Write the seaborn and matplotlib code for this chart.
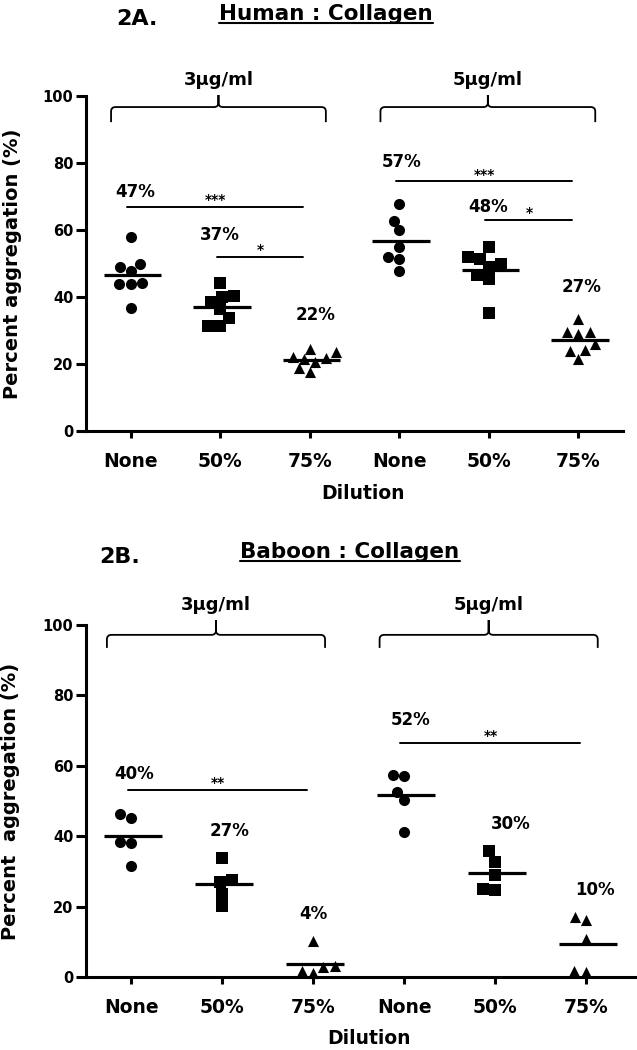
import numpy as np
import pandas as pd
import matplotlib
matplotlib.use('Agg')
import matplotlib.pyplot as plt
from matplotlib.path import Path
from matplotlib.patches import PathPatch
from matplotlib.lines import Line2D
import seaborn as sns

# DATA
GROUPS      = ['3-None', '3-50', '3-75', '5-None', '5-50', '5-75']
DILUTIONS   = ['None', '50%', '75%', 'None', '50%', '75%']
TICK_LABELS = ['None', '50%', '75%', 'None', '50%', '75%']
CONCENTRATIONS = ['3µg/ml', '5µg/ml']
MARKERS = {'None': 'o', '50%': 's', '75%': '^'}

HUMAN_3_NONE = [57.9, 47.9, 48.9, 49.9, 44.0, 43.8, 44.2, 36.7]
HUMAN_3_50   = [44.3, 40.3, 40.0, 38.5, 36.3, 33.8, 31.3, 31.3]
HUMAN_3_75   = [24.6, 20.6, 21.8, 17.7, 22.1, 18.7, 23.6, 21.6]
HUMAN_5_NONE = [67.8, 62.8, 59.9, 54.9, 51.9, 51.4, 47.9]
HUMAN_5_50   = [54.9, 51.4, 51.9, 49.9, 48.9, 46.7, 45.3, 35.3]
HUMAN_5_75   = [33.3, 29.6, 29.1, 29.6, 26.1, 24.3, 23.9, 21.6]

BABOON_3_NONE = [45.3, 46.3, 38.4, 38.1, 31.5]
BABOON_3_50   = [33.8, 27.5, 27.0, 23.7, 20.1]
BABOON_3_75   = [10.2, 2.8, 1.1, 1.7, 3.0]
BABOON_5_NONE = [57.1, 57.5, 52.6, 50.2, 41.2]
BABOON_5_50   = [35.7, 32.7, 29.1, 24.6, 25.1]
BABOON_5_75   = [16.1, 17.1, 10.8, 1.4, 1.7]

HUMAN_PCT  = ['47%', '37%', '22%', '57%', '48%', '27%']
BABOON_PCT = ['40%', '27%', '4%', '52%', '30%', '10%']
HUMAN_SIG  = [(0, 2, '***'), (1, 2, '*'), (3, 5, '***'), (4, 5, '*')]
BABOON_SIG = [(0, 2, '**'), (3, 5, '**')]

# LAYOUT
HUMAN_LAYOUT = dict(
    rect=[86/637, 1-431/1050, 537/637, 335/1050], xmax=5.5,
    pct_xy=[(0.05, 71.3), (1.0, 58.4), (2.07, 34.5), (3.03, 80.2), (3.99, 66.8), (5.04, 43.0)],
    sig_y=[67.0, 51.9, 74.5, 63.1],
    brace_cx=[0.98, 3.99], brace_y=(92.2, 96.7, 100.3), conc_y=104.8,
    label_y=-0.158)
BABOON_LAYOUT = dict(
    rect=[86/637, 1-977/1050, 549/637, 352/1050], xmax=5.54,
    pct_xy=[(0.03, 57.8), (1.08, 41.5), (2.0, 18.0), (3.07, 73.0), (4.17, 43.6), (5.1, 24.7)],
    sig_y=[53.1, 66.6],
    brace_cx=[0.93, 3.93], brace_y=(93.5, 97.2, 101.4), conc_y=105.7,
    label_y=-0.148)

sns.set_style('ticks')
plt.rcParams['font.family'] = ['DejaVu Sans']
plt.rcParams['font.weight'] = 'bold'
for key in ['text.color', 'axes.labelcolor', 'xtick.color', 'ytick.color', 'axes.edgecolor']:
    plt.rcParams[key] = 'black'


def build_df(series):
    rows = []
    for grp, dil, vals in zip(GROUPS, DILUTIONS, series):
        for v in vals:
            rows.append({'group': grp, 'dilution': dil, 'value': v})
    return pd.DataFrame(rows)


def brace(ax, cx, half, y_low, y_top, y_tip):
    x0, x1 = cx - half, cx + half
    rx, ry = 0.05, 1.3
    verts = [(x0, y_low), (x0, y_top - ry), (x0, y_top), (x0 + rx, y_top),
             (cx - rx, y_top), (cx, y_top), (cx, y_top + ry), (cx, y_tip),
             (cx, y_tip), (cx, y_top + ry), (cx, y_top), (cx + rx, y_top),
             (x1 - rx, y_top), (x1, y_top), (x1, y_top - ry), (x1, y_low)]
    codes = [Path.MOVETO, Path.LINETO, Path.CURVE3, Path.CURVE3,
             Path.LINETO, Path.CURVE3, Path.CURVE3, Path.LINETO,
             Path.MOVETO, Path.LINETO, Path.CURVE3, Path.CURVE3,
             Path.LINETO, Path.CURVE3, Path.CURVE3, Path.LINETO]
    ax.add_patch(PathPatch(Path(verts, codes), fill=False, lw=1.3,
                           color='black', clip_on=False))


def draw_panel(fig, series, pct, sig, lay, ylabel):
    ax = fig.add_axes(lay['rect'])
    df = build_df(series)
    for dil, m in MARKERS.items():
        sub = df[df['dilution'] == dil]
        sns.swarmplot(data=sub, x='group', y='value', order=GROUPS, ax=ax,
                      color='black', marker=m, size=8.5 if m == 's' else 8,
                      linewidth=0)
    for c in ax.collections:
        c.set_clip_on(False)

    # mean lines
    means = df.groupby('group')['value'].mean().reindex(GROUPS)
    pos = np.arange(len(GROUPS))
    ax.hlines(means.values, pos - 0.3, pos + 0.34, color='black', lw=2.3)

    # percent labels
    for txt, (x, y) in zip(pct, lay['pct_xy']):
        ax.text(x, y, txt, ha='center', va='center', fontsize=12,
                fontweight='bold')

    # significance bars
    for (i, j, stars), y in zip(sig, lay['sig_y']):
        ax.plot([i - 0.04, j - 0.07], [y, y], color='black', lw=1.4)
        ax.text((i + j) / 2 - 0.05, y + 2.0, stars, ha='center', va='center',
                fontsize=10, fontweight='bold')

    # concentration braces
    y_low, y_top, y_tip = lay['brace_y']
    for cx, conc in zip(lay['brace_cx'], CONCENTRATIONS):
        brace(ax, cx, 1.2, y_low, y_top, y_tip)
        ax.text(cx, lay['conc_y'], conc, ha='center', va='center',
                fontsize=13, fontweight='bold', clip_on=False)

    ax.set_xlim(-0.5, lay['xmax'])
    ax.set_ylim(0, 100)
    ax.set_yticks([0, 20, 40, 60, 80, 100])
    ax.set_xticks(pos)
    ax.set_xticklabels(TICK_LABELS)
    ax.tick_params(axis='x', length=5, width=2.2, labelsize=13.5, pad=10)
    ax.tick_params(axis='y', length=7, width=2.2, labelsize=10.5, pad=2)
    for lab in ax.get_xticklabels() + ax.get_yticklabels():
        lab.set_fontweight('bold')
    sns.despine(ax=ax)
    ax.spines['left'].set_linewidth(2.2)
    ax.spines['bottom'].set_linewidth(2.2)
    ax.set_xlabel('Dilution', fontsize=13.5, fontweight='bold')
    ax.xaxis.set_label_coords(0.515, lay['label_y'])
    ax.set_ylabel(ylabel, fontsize=14, fontweight='bold')
    ax.yaxis.set_label_coords(-0.12, 0.5)
    return ax


fig = plt.figure(figsize=(6.37, 10.5), dpi=100, facecolor='white')

draw_panel(fig,
           [HUMAN_3_NONE, HUMAN_3_50, HUMAN_3_75, HUMAN_5_NONE, HUMAN_5_50, HUMAN_5_75],
           HUMAN_PCT, HUMAN_SIG, HUMAN_LAYOUT, 'Percent aggregation (%)')
draw_panel(fig,
           [BABOON_3_NONE, BABOON_3_50, BABOON_3_75, BABOON_5_NONE, BABOON_5_50, BABOON_5_75],
           BABOON_PCT, BABOON_SIG, BABOON_LAYOUT, 'Percent  aggregation (%)')

# panel titles
W, H = 637, 1050
fig.text(137/W, 1-25/H, '2A.', ha='center', va='baseline', fontsize=16, fontweight='bold')
fig.text(120/W, 1-563/H, '2B.', ha='center', va='baseline', fontsize=16, fontweight='bold')
titles = [fig.text(326/W, 1-20.5/H, 'Human : Collagen', ha='center', va='baseline',
                   fontsize=15.5, fontweight='bold'),
          fig.text(350/W, 1-558/H, 'Baboon : Collagen', ha='center', va='baseline',
                   fontsize=15.5, fontweight='bold')]
fig.canvas.draw()
renderer = fig.canvas.get_renderer()
for t, uy in zip(titles, [22.5, 560.5]):
    bb = t.get_window_extent(renderer)
    fig.add_artist(Line2D([bb.x0 / W, bb.x1 / W], [1 - uy / H, 1 - uy / H],
                          transform=fig.transFigure, color='black', lw=1.5))

fig.savefig('out.png', dpi=100, facecolor='white')
